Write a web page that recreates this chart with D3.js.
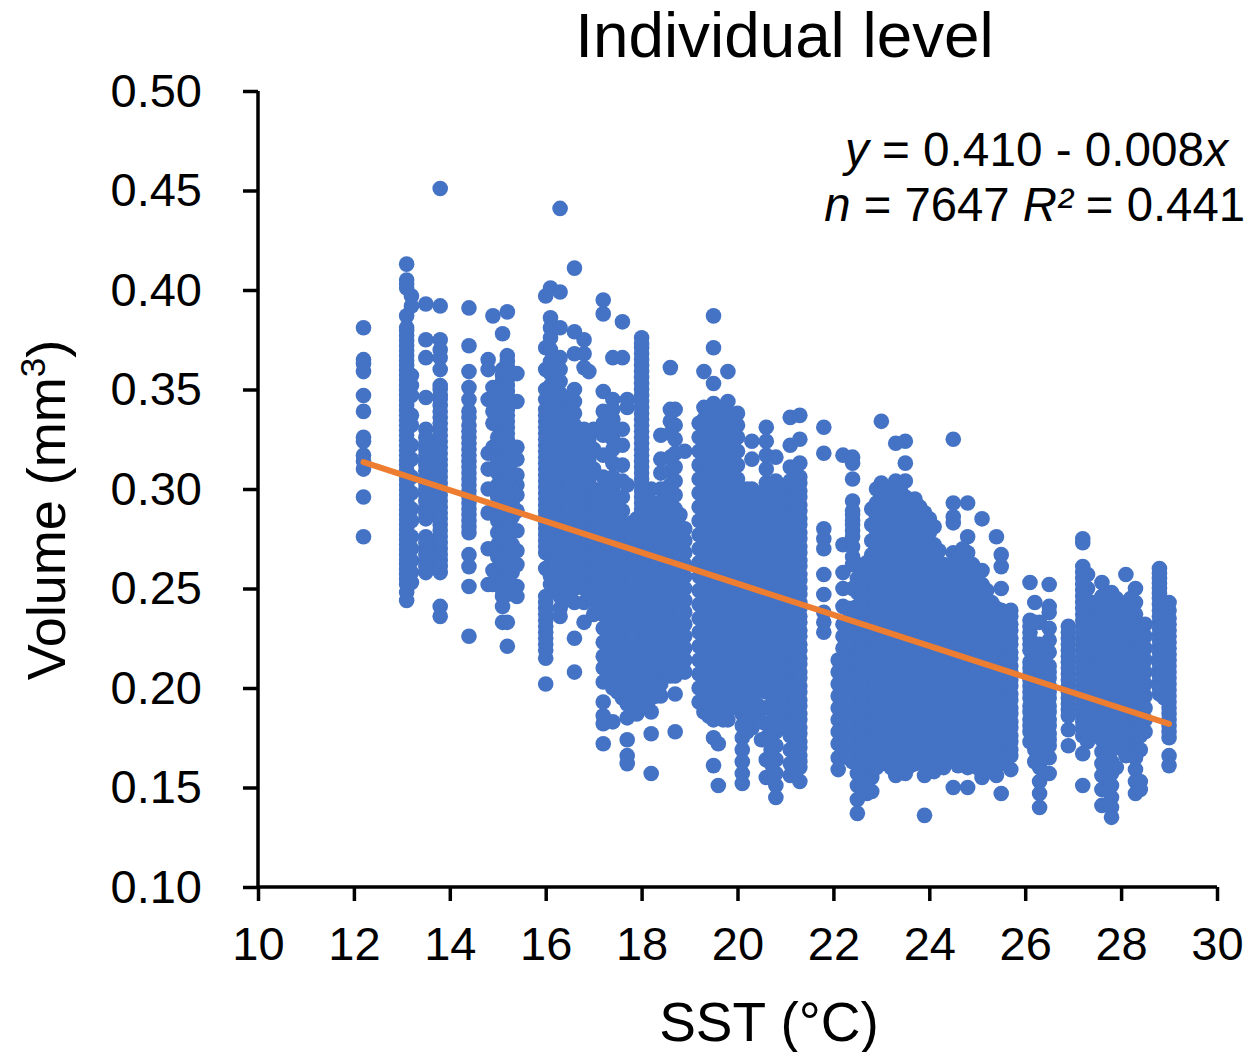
<!DOCTYPE html>
<html>
<head>
<meta charset="utf-8">
<title>Individual level</title>
<script src="https://cdn.jsdelivr.net/npm/d3@7"></script>
<style>
  html, body { margin: 0; padding: 0; background: #fff; }
  text { font-family: "Liberation Sans", Arial, sans-serif; fill: #000; }
</style>
</head>
<body>
<div id="chart"></div>
<script>
// values, one list of volumes per SST column
const sstColumns = [
  12.2, 13.1, 13.2, 13.5, 13.8, 14.4, 14.8, 14.9, 15.0, 15.1, 15.2, 15.4,
  16.0, 16.1, 16.3, 16.4, 16.6, 16.8, 16.9, 17.0, 17.2, 17.4, 17.6, 17.7, 17.9,
  18.0, 18.2, 18.4, 18.6, 18.7, 18.9, 19.2, 19.3, 19.5, 19.6, 19.8, 20.0, 20.1,
  20.3, 20.6, 20.8, 21.0, 21.1, 21.3, 21.8, 22.1, 22.2, 22.4, 22.5, 22.7, 22.8,
  23.0, 23.3, 23.5, 23.7, 23.9, 24.1, 24.3, 24.5, 24.8, 25.1, 25.4, 25.5, 25.7,
  26.1, 26.2, 26.3, 26.5, 26.9, 27.2, 27.4, 27.6, 27.8, 28.1, 28.2, 28.3, 28.4,
  28.8, 29.0,
];
const volumeColumns = [
  [.381,.365,.363,.359,.347,.339,.326,.324,.317,.314,.31,.296,.276],
  [.413,.405,.403,.401,.387,.381,.377,.372,.367,.362,.357,.352,.347,.342,.337,.332,.327,.322,.317,.312,.307,.302,.297,.292,.287,.282,.277,.272,.267,.262,.257,.252,.248,.244],
  [.397,.392,.357,.352,.347,.337,.332,.322,.315,.306,.298,.29,.284,.276,.27,.264,.258,.253],
  [.393,.375,.366,.346,.33,.326,.32,.314,.309,.303,.297,.291,.285,.276,.27,.264,.258],
  [.451,.392,.375,.37,.366,.36,.352,.347,.342,.336,.33,.324,.318,.312,.306,.3,.294,.288,.282,.276,.27,.264,.258,.241,.236],
  [.391,.372,.359,.351,.345,.339,.332,.326,.32,.314,.308,.302,.296,.29,.284,.278,.267,.261,.251,.226],
  [.365,.36,.345,.318,.31,.3,.288,.27,.252],
  [.387,.351,.345,.339,.333,.321,.259,.252],
  [.35,.344,.338,.332,.326,.32,.314,.308,.302,.296,.29,.284,.278,.272,.266,.26],
  [.378,.36,.354,.348,.342,.336,.33,.324,.318,.312,.306,.3,.294,.288,.282,.276,.27,.264,.258,.252,.246,.241,.233],
  [.389,.367,.361,.355,.349,.343,.337,.331,.325,.319,.313,.307,.301,.295,.289,.283,.277,.271,.265,.259,.253,.247,.233,.221],
  [.358,.344,.321,.315,.307,.302,.297,.289,.279,.269,.262,.251,.246],
  [.397,.371,.36,.35,.345,.34,.334,.328,.322,.316,.31,.304,.298,.292,.286,.28,.274,.268,.26,.246,.24,.234,.228,.222,.215,.202],
  [.401,.386,.381,.376,.37,.364,.358,.352,.346,.34,.334,.328,.322,.316,.31,.304,.298,.292,.286,.28,.274,.268,.262,.256,.252],
  [.441,.399,.381,.366,.36,.354,.348,.342,.336,.33,.324,.318,.312,.306,.3,.294,.288,.282,.276,.27,.264,.258,.252,.246,.24,.236],
  [.346,.34,.334,.328,.322,.316,.31,.304,.298,.292,.286,.28,.274,.268,.262,.256,.25,.244],
  [.411,.379,.368,.35,.344,.338,.332,.326,.32,.314,.308,.302,.296,.29,.284,.278,.272,.266,.26,.254,.25,.243,.225,.208],
  [.375,.368,.361,.33,.32,.31,.304,.298,.292,.286,.28,.274,.268,.262,.256,.25,.243,.233],
  [.359,.325,.315,.305,.295,.287,.279,.271,.263,.255,.247],
  [.33,.32,.31,.3,.293,.286,.279,.272,.265,.258,.251,.244,.237],
  [.395,.388,.349,.339,.333,.327,.317,.306,.3,.293,.286,.279,.272,.265,.258,.251,.244,.237,.23,.223,.216,.21,.203,.193,.186,.182,.172],
  [.366,.345,.34,.335,.33,.325,.32,.313,.306,.299,.292,.285,.278,.271,.264,.257,.25,.243,.236,.229,.222,.215,.208,.2,.183],
  [.384,.366,.33,.322,.312,.304,.296,.289,.282,.275,.268,.261,.254,.247,.24,.233,.226,.219,.212,.205,.195],
  [.345,.341,.302,.28,.273,.266,.259,.252,.245,.238,.231,.224,.217,.21,.203,.192,.185,.174,.166,.162],
  [.285,.278,.271,.264,.257,.25,.243,.236,.229,.222,.215,.208,.201,.194,.187],
  [.376,.371,.365,.359,.353,.347,.341,.335,.329,.323,.317,.311,.305,.299,.293,.287,.28,.273,.266,.259,.252,.245,.238,.231,.224,.217,.21,.203,.196,.19],
  [.3,.293,.286,.279,.272,.265,.258,.251,.244,.237,.23,.223,.216,.209,.202,.195,.188,.177,.157],
  [.327,.315,.308,.3,.293,.286,.279,.272,.265,.258,.251,.244,.237,.23,.223,.216,.209,.202,.196],
  [.361,.34,.334,.328,.316,.309,.302,.295,.288,.281,.274,.267,.26,.253,.246,.239,.232,.225,.218,.211,.206],
  [.34,.332,.325,.318,.311,.304,.297,.29,.283,.276,.269,.262,.255,.248,.241,.234,.227,.22,.213,.206,.197,.178],
  [.319,.28,.274,.268,.262,.256,.25,.244,.238,.232,.226,.22,.214,.208],
  [.333,.326,.319,.312,.305,.298,.291,.284,.277,.27,.263,.256,.249,.242,.235,.228,.221,.214,.207,.2,.193],
  [.359,.341,.335,.329,.322,.315,.308,.301,.294,.287,.28,.273,.266,.259,.252,.245,.238,.231,.224,.217,.21,.203,.196,.188],
  [.387,.371,.353,.343,.337,.331,.324,.317,.31,.303,.296,.289,.282,.275,.268,.261,.254,.247,.24,.233,.226,.219,.212,.205,.198,.191,.184,.175,.161],
  [.34,.334,.327,.32,.313,.306,.299,.292,.285,.278,.271,.264,.257,.25,.243,.236,.229,.222,.215,.208,.201,.194,.187,.172,.151],
  [.359,.344,.338,.331,.324,.317,.31,.303,.296,.289,.282,.275,.268,.261,.254,.247,.24,.233,.226,.219,.212,.205,.198,.191,.184],
  [.338,.332,.326,.319,.312,.305,.298,.291,.284,.277,.27,.263,.256,.249,.242,.235,.228,.221,.214,.207,.2,.195],
  [.295,.288,.281,.274,.267,.26,.253,.246,.239,.232,.225,.218,.211,.204,.194,.187,.181,.175,.169,.163,.157,.152],
  [.324,.315,.3,.293,.286,.279,.272,.265,.258,.251,.244,.237,.23,.223,.216,.209,.202,.196,.189,.18],
  [.331,.324,.317,.31,.303,.296,.289,.282,.275,.268,.261,.254,.247,.24,.233,.226,.219,.212,.205,.198,.19,.182,.175,.164,.155],
  [.316,.304,.297,.29,.283,.276,.269,.262,.255,.248,.241,.234,.227,.22,.213,.206,.199,.192,.185,.178,.171,.164,.157,.151,.145],
  [.29,.283,.276,.269,.262,.255,.248,.241,.234,.227,.22,.213,.206,.199,.192,.185],
  [.336,.322,.311,.304,.297,.29,.283,.276,.269,.262,.255,.248,.241,.234,.227,.22,.213,.206,.199,.19,.183,.176,.169,.162,.156],
  [.337,.325,.313,.306,.299,.292,.285,.278,.271,.264,.257,.25,.243,.236,.229,.222,.215,.208,.201,.194,.187,.18,.173,.166,.16,.153],
  [.331,.318,.28,.275,.27,.257,.247,.238,.233,.228],
  [.214,.208,.202,.196,.19,.184,.178,.172,.165,.159],
  [.317,.272,.258,.25,.241,.232,.226,.22,.213,.206,.199,.192,.185,.178,.171],
  [.316,.313,.305,.294,.289,.284,.279,.271,.262,.25,.24,.233,.226,.219,.212,.205,.198,.191,.184,.177,.17,.163],
  [.262,.255,.248,.241,.234,.227,.22,.213,.206,.199,.192,.185,.178,.171,.164,.157,.151,.144,.137],
  [.263,.256,.249,.242,.235,.228,.221,.214,.207,.2,.193,.186,.179,.172,.165,.158,.152,.147],
  [.29,.282,.274,.267,.26,.253,.246,.239,.232,.225,.218,.211,.204,.197,.19,.183,.176,.169,.162,.155,.148],
  [.334,.303,.297,.291,.284,.277,.27,.263,.256,.249,.242,.235,.228,.221,.214,.207,.2,.193,.186,.179,.172,.165,.162],
  [.323,.304,.297,.29,.283,.276,.269,.262,.255,.248,.241,.234,.227,.22,.213,.206,.199,.192,.185,.178,.171,.164,.156],
  [.324,.313,.304,.296,.289,.282,.275,.268,.261,.254,.247,.24,.233,.226,.219,.212,.205,.198,.191,.184,.177,.17,.163,.157],
  [.295,.288,.281,.274,.267,.26,.253,.246,.239,.232,.225,.218,.211,.204,.197,.19,.183,.176,.169,.162],
  [.288,.281,.274,.267,.26,.253,.246,.239,.232,.225,.218,.211,.204,.197,.19,.183,.176,.169,.162,.156,.136],
  [.281,.272,.264,.257,.25,.243,.236,.229,.222,.215,.208,.201,.194,.187,.18,.173,.166,.158],
  [.262,.255,.248,.241,.234,.227,.22,.213,.206,.199,.192,.185,.178,.171,.165,.16],
  [.325,.293,.286,.283,.268,.262,.255,.248,.241,.234,.227,.22,.213,.206,.199,.192,.185,.178,.171,.164,.15],
  [.293,.276,.268,.261,.254,.247,.24,.233,.226,.219,.212,.205,.198,.191,.184,.177,.17,.16,.15],
  [.285,.259,.252,.245,.238,.231,.224,.217,.21,.203,.196,.189,.182,.175,.168,.161,.155],
  [.276,.24,.233,.226,.219,.212,.205,.198,.191,.184,.177,.17,.163,.156],
  [.267,.261,.25,.239,.232,.225,.218,.211,.204,.197,.19,.183,.176,.169,.162,.147],
  [.239,.232,.225,.218,.211,.204,.197,.19,.183,.176,.169,.159],
  [.253,.234,.228,.222,.21,.204,.198,.191,.184,.178,.173],
  [.243,.233,.21,.203,.196,.189,.182,.175,.169,.163],
  [.233,.222,.215,.208,.201,.194,.187,.18,.173,.166,.16,.153,.147,.14],
  [.252,.241,.224,.211,.205,.198,.191,.184,.177,.171,.165,.157],
  [.231,.225,.219,.213,.207,.201,.195,.189,.179,.171],
  [.275,.273,.261,.255,.249,.243,.237,.231,.225,.219,.213,.207,.201,.195,.189,.183,.176,.167,.151],
  [.243,.232,.225,.218,.211,.204,.197,.19,.183,.178],
  [.253,.246,.24,.234,.228,.222,.216,.21,.204,.198,.192,.186,.18,.174,.168,.162,.156,.149,.141],
  [.248,.241,.235,.229,.223,.217,.211,.205,.199,.193,.187,.181,.175,.169,.163,.157,.151,.145,.14,.135],
  [.257,.24,.234,.228,.222,.216,.21,.204,.198,.192,.186,.18,.174,.166],
  [.245,.238,.232,.226,.22,.214,.208,.202,.196,.19,.184,.178,.172],
  [.25,.243,.237,.231,.225,.219,.213,.207,.201,.195,.189,.183,.177,.171,.165,.159,.153,.147],
  [.22,.212,.205,.198,.19,.183,.176,.169,.153,.149],
  [.26,.255,.25,.245,.239,.233,.227,.221,.215,.209,.203,.197],
  [.243,.235,.229,.223,.217,.211,.205,.199,.193,.187,.181,.175,.166,.161],
];

// further columns, where the points overlap into a solid mass
const denseSst = [
  15.3, 16.2, 16.5, 16.7, 17.1, 17.3, 17.5, 17.8, 18.1, 18.3, 18.5, 18.8,
  19.4, 19.7, 19.9, 20.2, 20.4, 20.5, 20.7, 20.9, 21.2, 22.3, 22.6, 22.9,
  23.1, 23.2, 23.4, 23.6, 23.8, 24.0, 24.2, 24.4, 24.6, 24.7, 24.9, 25.0,
  25.2, 25.3, 25.6, 26.4, 27.3, 27.5, 27.7, 27.9, 28.0, 28.5, 28.9,
  13.1, 13.5, 13.8, 14.4, 15.1, 15.2, 16.0, 18.0, 21.3, 22.4, 25.7,
  26.1, 26.3, 26.5, 26.9, 27.2, 28.8, 29.0,
];
const denseVolumes = [
  [.321,.314,.307,.3,.293,.286,.279,.272,.265,.258,.251],
  [.353,.347,.341,.335,.329,.323,.317,.311,.305,.299,.293,.287,.281,.275,.269,.263,.257,.251],
  [.337,.331,.325,.319,.313,.307,.301,.295,.289,.283,.277,.271,.265,.259,.253,.247],
  [.327,.321,.315,.309,.303,.297,.291,.285,.279,.273,.267,.261,.255],
  [.296,.29,.283,.276,.269,.262,.255,.248,.241],
  [.3,.296,.29,.283,.276,.269,.262,.255,.248,.241,.234,.227,.22,.213,.206],
  [.296,.289,.282,.275,.268,.261,.254,.247,.24,.233,.226,.219,.212,.205,.198],
  [.283,.276,.269,.262,.255,.248,.241,.234,.227,.22,.213,.206,.199],
  [.296,.289,.282,.275,.268,.261,.254,.247,.24,.233,.226,.219,.212,.205,.198,.191],
  [.293,.286,.279,.272,.265,.258,.251,.244,.237,.23,.223,.216,.209,.202,.196],
  [.3,.294,.287,.28,.273,.266,.259,.252,.245,.238,.231,.224,.217,.21],
  [.287,.281,.274,.267,.26,.253,.246,.239,.232,.225,.218,.212],
  [.338,.331,.325,.318,.311,.304,.297,.29,.283,.276,.269,.262,.255,.248,.241,.234,.227,.22,.213,.206,.199,.192,.186],
  [.336,.33,.323,.316,.309,.302,.295,.288,.281,.274,.267,.26,.253,.246,.239,.232,.225,.218,.211,.204,.197,.19,.184],
  [.335,.329,.322,.315,.308,.301,.294,.287,.28,.273,.266,.259,.252,.245,.238,.231,.224,.217,.21,.203,.197,.19],
  [.3,.292,.285,.278,.271,.264,.257,.25,.243,.236,.229,.222,.215,.208,.201,.194,.186,.178],
  [.298,.291,.284,.277,.27,.263,.256,.249,.242,.235,.228,.221,.214,.207,.2,.192,.185],
  [.297,.29,.283,.276,.269,.262,.255,.248,.241,.234,.227,.22,.213,.206,.199,.19,.183,.174],
  [.302,.295,.288,.281,.274,.267,.26,.253,.246,.239,.232,.225,.218,.211,.204,.197,.19,.183,.176,.169,.162],
  [.3,.293,.286,.279,.272,.265,.258,.251,.244,.237,.23,.223,.216,.209,.202,.195,.188,.181],
  [.31,.302,.295,.288,.281,.274,.267,.26,.253,.246,.239,.232,.225,.218,.211,.204,.197,.19,.183,.176,.169,.162,.157],
  [.24,.234,.228,.221,.214,.207,.2,.193,.186,.179,.172,.165],
  [.26,.253,.246,.239,.232,.225,.218,.211,.204,.197,.19,.183,.176,.169,.162,.155,.149],
  [.3,.293,.286,.279,.272,.265,.258,.251,.244,.237,.23,.223,.216,.209,.202,.195,.188,.181,.174,.167,.16],
  [.301,.295,.288,.281,.274,.267,.26,.253,.246,.239,.232,.225,.218,.211,.204,.197,.19,.183,.176,.169,.163],
  [.3,.293,.286,.279,.272,.265,.258,.251,.244,.237,.23,.223,.216,.209,.202,.195,.188,.181,.174,.167,.16],
  [.299,.292,.285,.278,.271,.264,.257,.25,.243,.236,.229,.222,.215,.208,.201,.194,.187,.18,.173,.166,.159],
  [.293,.286,.279,.272,.265,.258,.251,.244,.237,.23,.223,.216,.209,.202,.195,.188,.181,.174,.167,.161],
  [.291,.284,.277,.27,.263,.256,.249,.242,.235,.228,.221,.214,.207,.2,.193,.186,.179,.172,.165],
  [.285,.278,.271,.264,.257,.25,.243,.236,.229,.222,.215,.208,.201,.194,.187,.18,.173,.166],
  [.269,.26,.253,.246,.239,.232,.225,.218,.211,.204,.197,.19,.183,.176,.169,.162],
  [.255,.248,.241,.234,.227,.22,.213,.206,.199,.192,.185,.178,.171,.164],
  [.265,.258,.251,.244,.237,.23,.223,.216,.209,.202,.195,.188,.181,.174,.167,.161],
  [.27,.264,.257,.25,.243,.236,.229,.222,.215,.208,.201,.194,.187,.18,.173,.166],
  [.262,.255,.248,.241,.234,.227,.22,.213,.206,.199,.192,.185,.178,.171,.164],
  [.258,.251,.244,.237,.23,.223,.216,.209,.202,.195,.188,.181,.174,.167,.16],
  [.249,.242,.235,.228,.221,.214,.207,.2,.193,.186,.179,.172,.165,.158],
  [.243,.236,.229,.222,.215,.208,.201,.194,.187,.18,.173,.166,.159],
  [.236,.229,.222,.215,.208,.201,.194,.187,.18,.173,.166],
  [.215,.208,.201,.194,.187,.18,.174],
  [.257,.25,.24,.234,.228,.222,.216,.21,.204,.198,.192,.186,.18,.173],
  [.236,.23,.224,.218,.212,.206,.2,.194,.188,.182,.176],
  [.238,.232,.226,.22,.214,.208,.202,.196,.19,.184,.178,.172,.166],
  [.245,.238,.231,.224,.218,.212,.206,.2,.194,.188,.182,.176,.17,.16],
  [.242,.236,.23,.224,.218,.212,.206,.2,.194,.188,.182,.176,.17],
  [.232,.226,.22,.214,.208,.202,.196,.19,.184,.178],
  [.241,.235,.229,.223,.218,.212,.206,.2,.195],
  [.3795,.3745,.3695,.3645,.3595,.3545,.3495,.3445,.3395,.3345,.3295,.3245,.3195,.3145,.3095,.3045,.2995,.2945,.2895,.2845,.2795,.2745,.2695,.2645,.2595,.2545],
  [.323,.317,.312,.306,.3,.294,.288,.273,.267,.261],
  [.35,.345,.339,.333,.327,.321,.315,.309,.303,.297,.291,.285,.279,.273,.267,.261],
  [.336,.329,.323,.317,.311,.305,.299,.293,.287,.281],
  [.357,.351,.345,.339,.333,.327,.321,.315,.309,.303,.297,.291,.285,.279,.273,.267,.261,.255,.249],
  [.364,.358,.352,.346,.34,.334,.328,.322,.316,.31,.304,.298,.292,.286,.28,.274,.268,.262,.256,.25],
  [.337,.331,.325,.319,.313,.307,.301,.295,.289,.283,.277,.271,.243,.237,.231,.225,.219],
  [.373,.368,.362,.356,.35,.344,.338,.332,.326,.32,.314,.308,.302,.296,.29],
  [.303,.296,.289,.282,.275,.268,.261,.254,.247,.24,.233,.226,.219,.212,.205,.198,.191,.184,.177,.17,.163],
  [.287,.282,.276,.266],
  [.236,.229,.222,.215,.208,.201,.194,.187,.18,.173,.166],
  [.231,.225,.219,.213,.207,.201,.195,.188,.181],
  [.218,.212,.205,.198,.191,.184,.177,.17,.163],
  [.238,.23,.218,.208,.201,.195,.188,.181,.174],
  [.228,.222,.216,.21,.204,.198,.192,.186],
  [.258,.252,.246,.24,.234,.228,.222,.216,.21,.204,.198,.192,.186,.18],
  [.2575,.2525,.2475,.242,.236,.23,.224,.218,.212,.206,.2],
  [.239,.232,.226,.22,.214,.208,.202,.196,.19,.184,.178],
];

const trendSst = [12.2, 29.0];
const trendVolume = [0.3135, 0.182];
const sstTicks = [10, 12, 14, 16, 18, 20, 22, 24, 26, 28, 30];
const volumeTicks = [0.1, 0.15, 0.2, 0.25, 0.3, 0.35, 0.4, 0.45, 0.5];

const width = 1249, height = 1052;
const margin = { top: 91, right: 32, bottom: 165, left: 258 };

const svg = d3
  .select("#chart")
  .append("svg")
  .attr("width", width)
  .attr("height", height)
  .style("display", "block");

const x = d3
  .scaleLinear()
  .domain([10, 30])
  .range([margin.left, width - margin.right]);
const y = d3
  .scaleLinear()
  .domain([0.1, 0.5])
  .range([height - margin.bottom, margin.top]);

// points
const drawColumns = (columns, volumes) => {
  columns.forEach((sst, i) => {
    svg
      .append("g")
      .selectAll("circle")
      .data(volumes[i])
      .join("circle")
      .attr("cx", x(sst))
      .attr("cy", (d) => y(d))
      .attr("r", 7.8)
      .style("fill", "#4472c4");
  });
};
drawColumns(sstColumns, volumeColumns);
drawColumns(denseSst, denseVolumes);

// trend line
const trendLine = d3
  .line()
  .x((d) => x(d))
  .y((d, i) => y(trendVolume[i]));
svg
  .append("path")
  .attr("d", trendLine(trendSst))
  .style("fill", "none")
  .style("stroke", "#ed7d31")
  .style("stroke-width", 6)
  .style("stroke-linecap", "round");

// add axes
const xAxis = svg
  .append("g")
  .attr("transform", `translate(0, ${height - margin.bottom})`)
  .call(d3.axisBottom(x).tickValues(sstTicks).tickSize(14).tickPadding(26));
const yAxis = svg
  .append("g")
  .attr("transform", `translate(${margin.left}, 0)`)
  .call(
    d3.axisLeft(y).tickValues(volumeTicks).tickSize(15).tickPadding(41)
      .tickFormat(d3.format(".2f"))
  );
[xAxis, yAxis].forEach((axis) => {
  axis.selectAll("path, line").style("stroke", "#000").style("stroke-width", 3.5);
  axis.selectAll("text").style("font-size", "47px").style("fill", "#000");
});
xAxis.select("path").attr("d", d3.line()([[x.range()[0], 0], [x.range()[1], 0]]));
yAxis.select("path").attr("d", d3.line()([[0, y.range()[0]], [0, y.range()[1]]]));

// titles
svg
  .append("text")
  .attr("x", 784.5)
  .attr("y", 57)
  .attr("text-anchor", "middle")
  .style("font-size", "63.8px")
  .text("Individual level");
svg
  .append("text")
  .attr("x", 769)
  .attr("y", 1041)
  .attr("text-anchor", "middle")
  .style("font-size", "55px")
  .text("SST (°C)");

const yTitle = svg
  .append("text")
  .attr("transform", "translate(65, 510) rotate(-90)")
  .attr("text-anchor", "middle")
  .style("font-size", "54px");
yTitle.append("tspan").text("Volume (mm");
yTitle.append("tspan").attr("dy", -20).style("font-size", "35px").text("3");
yTitle.append("tspan").attr("dy", 20).text(")");

// equation
const eq1 = svg
  .append("text")
  .attr("x", 1228)
  .attr("y", 166)
  .attr("text-anchor", "end")
  .style("font-size", "47.7px");
eq1.append("tspan").style("font-style", "italic").text("y");
eq1.append("tspan").text(" = 0.410 - 0.008");
eq1.append("tspan").style("font-style", "italic").text("x");

const eq2 = svg
  .append("text")
  .attr("x", 1245)
  .attr("y", 221)
  .attr("text-anchor", "end")
  .style("font-size", "47.3px");
eq2.append("tspan").style("font-style", "italic").text("n");
eq2.append("tspan").text(" = 7647 ");
eq2.append("tspan").style("font-style", "italic").text("R²");
eq2.append("tspan").text(" = 0.441");
</script>
</body>
</html>
